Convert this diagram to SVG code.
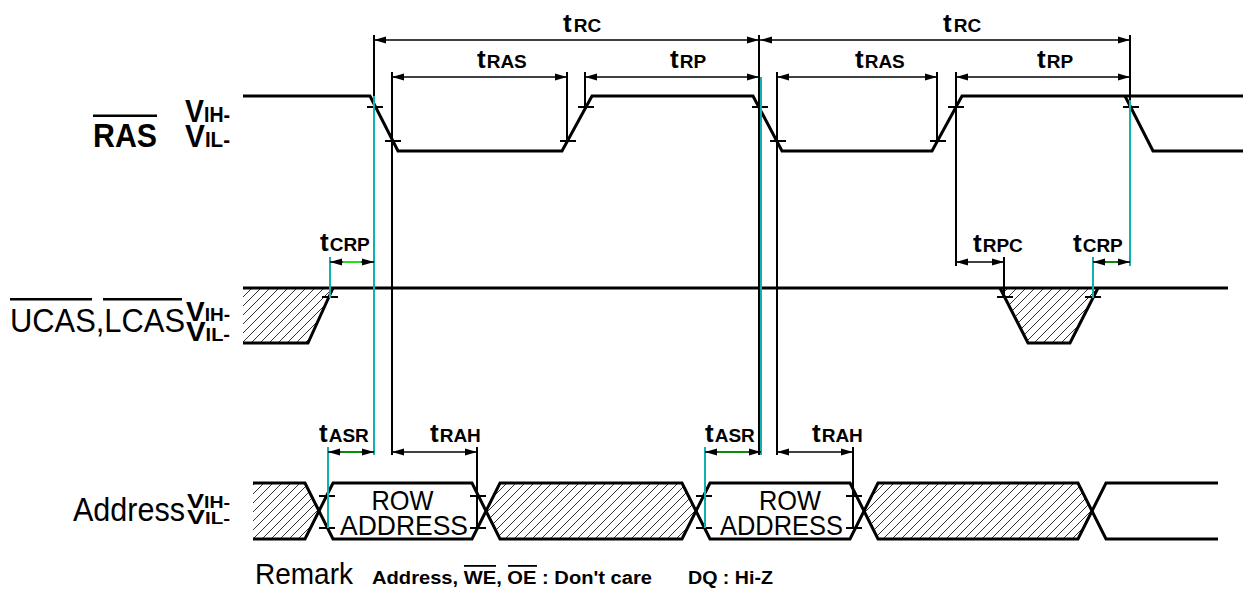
<svg xmlns="http://www.w3.org/2000/svg" width="1244" height="594" viewBox="0 0 1244 594">
<style>
text{font-family:"Liberation Sans",Arial,sans-serif;fill:#000}
.sig{fill:none;stroke:#000;stroke-width:3;stroke-linejoin:miter}
.tick{stroke:#000;stroke-width:2}
.ext{stroke:#000;stroke-width:2}
.cy{stroke:#12b0b0;stroke-width:2}
.dim{stroke:#000;stroke-width:1.5;marker-start:url(#ah);marker-end:url(#ah)}
.g1{stroke:#22dd22;stroke-width:2}
.g2{stroke:#0a8a0a;stroke-width:2}
.hatch{fill:url(#hp);stroke:none}
.tt{font-size:26px;font-weight:bold}
.ts{font-size:19px;font-weight:bold}
.vb{font-weight:bold}
.ov{fill:#000}
</style>
<defs>
<marker id="ah" viewBox="0 0 12 8" refX="12" refY="4" markerWidth="12" markerHeight="8" markerUnits="userSpaceOnUse" orient="auto-start-reverse">
<path d="M0,0.6 L12,4 L0,7.4 z" fill="#000"/>
</marker>
<pattern id="hp" patternUnits="userSpaceOnUse" width="9" height="9">
<path d="M0,9 L9,0 M-1,1 L1,-1 M8,10 L10,8" stroke="#333" stroke-width="1"/>
</pattern>
</defs>
<rect width="1244" height="594" fill="#fff"/>

<g id="labels">
<g id="ras-label">
<text x="93" y="147" font-size="34" font-weight="bold" textLength="64" lengthAdjust="spacingAndGlyphs">RAS</text>
<rect class="ov" x="93" y="114.5" width="64" height="2.5"/>
<text class="vb" x="185" y="122" textLength="45" lengthAdjust="spacingAndGlyphs"><tspan font-size="32">V</tspan><tspan font-size="22">IH-</tspan></text>
<text class="vb" x="185" y="147" textLength="45" lengthAdjust="spacingAndGlyphs"><tspan font-size="32">V</tspan><tspan font-size="22">IL-</tspan></text>
</g>
<g id="cas-label">
<text x="10" y="332" font-size="34" textLength="175" lengthAdjust="spacingAndGlyphs">UCAS,LCAS</text>
<rect class="ov" x="10" y="298" width="82" height="2.5"/>
<rect class="ov" x="103" y="298" width="79" height="2.5"/>
<text class="vb" x="186" y="321" textLength="44" lengthAdjust="spacingAndGlyphs"><tspan font-size="28">V</tspan><tspan font-size="19">IH-</tspan></text>
<text class="vb" x="186" y="341" textLength="44" lengthAdjust="spacingAndGlyphs"><tspan font-size="28">V</tspan><tspan font-size="19">IL-</tspan></text>
</g>
<g id="addr-label">
<text x="73" y="521" font-size="33" textLength="112" lengthAdjust="spacingAndGlyphs">Address</text>
<text class="vb" x="187" y="508" textLength="43" lengthAdjust="spacingAndGlyphs"><tspan font-size="21">V</tspan><tspan font-size="16">IH-</tspan></text>
<text class="vb" x="187" y="524" textLength="43" lengthAdjust="spacingAndGlyphs"><tspan font-size="21">V</tspan><tspan font-size="16">IL-</tspan></text>
</g>
</g>

<g id="ras">
<path class="sig" d="M243,96 H370 L398,151 H562 L592,96 H753 L782,151 H932 L962,96 H1243"/>
<path class="sig" d="M1125,96 L1153,151 H1243"/>
<path class="tick" d="M367,107 H383 M385,141 H401 M560,141 H576 M578,107 H594 M752,107 H768 M770,141 H786 M930,141 H946 M948,107 H964 M1123,107 H1139"/>
</g>

<g id="cas">
<polygon class="hatch" points="243,288 333,288 308,343 243,343"/>
<polygon class="hatch" points="1000,288 1098,288 1070,343 1028,343"/>
<path class="sig" d="M243,288 H1228"/>
<path class="sig" d="M333,288 L308,343 H243"/>
<path class="sig" d="M1000,288 L1028,343 H1070 L1098,288"/>
<path class="tick" d="M322,297 H338 M997,297 H1013 M1085,297 H1101"/>
</g>

<g id="address">
<polygon class="hatch" points="253,483 305,483 319,511 305,539 253,539"/>
<polygon class="hatch" points="486,511 500,483 682,483 696,511 682,539 500,539"/>
<polygon class="hatch" points="864,511 878,483 1078,483 1092,511 1078,539 878,539"/>
<path class="sig" d="M253,483 H305 L333,539 H472 L500,483 H682 L710,539 H850 L878,483 H1078 L1106,539 H1218"/>
<path class="sig" d="M253,539 H305 L333,483 H472 L500,539 H682 L710,483 H850 L878,539 H1078 L1106,483 H1218"/>
<path class="tick" d="M319,496 H335 M319,528 H335 M470,496 H486 M470,528 H486 M696,496 H712 M696,528 H712 M846,496 H862 M846,528 H862"/>
<text x="402.5" y="510" font-size="28" text-anchor="middle" textLength="62" lengthAdjust="spacingAndGlyphs">ROW</text>
<text x="340" y="535" font-size="28" textLength="128" lengthAdjust="spacingAndGlyphs">ADDRESS</text>
<text x="790" y="510" font-size="28" text-anchor="middle" textLength="62" lengthAdjust="spacingAndGlyphs">ROW</text>
<text x="720" y="535" font-size="28" textLength="123" lengthAdjust="spacingAndGlyphs">ADDRESS</text>
</g>

<g id="connectors">
<path class="ext" d="M374,35 V107 M759,35 V455 M1130,35 V107 M392,72 V455 M567,72 V141 M585,72 V107 M777,72 V455 M937,72 V141 M956,72 V266 M1004,257 V298 M477,447 V528 M853,447 V528"/>
<path class="cy" d="M374,96 V455 M761,77 V455 M1130,100 V266 M330,257 V298 M1093,257 V298 M328,447 V528 M705,447 V528"/>
<line class="dim" x1="374" y1="40" x2="759" y2="40"/>
<line class="dim" x1="760" y1="40" x2="1130" y2="40"/>
<line class="dim" x1="392" y1="77" x2="567" y2="77"/>
<line class="dim" x1="585" y1="77" x2="759" y2="77"/>
<line class="dim" x1="777" y1="77" x2="937" y2="77"/>
<line class="dim" x1="956" y1="77" x2="1130" y2="77"/>
<line class="dim" x1="330" y1="262" x2="374" y2="262"/>
<line class="g1" x1="343" y1="262" x2="361" y2="262"/>
<line class="dim" x1="956" y1="262" x2="1004" y2="262"/>
<line class="dim" x1="1093" y1="262" x2="1130" y2="262"/>
<line class="g2" x1="1106" y1="262" x2="1117" y2="262"/>
<line class="dim" x1="328" y1="452" x2="374" y2="452"/>
<line class="g2" x1="341" y1="452" x2="361" y2="452"/>
<line class="dim" x1="392" y1="452" x2="477" y2="452"/>
<line class="dim" x1="705" y1="452" x2="761" y2="452"/>
<line class="g2" x1="718" y1="452" x2="748" y2="452"/>
<line class="dim" x1="777" y1="452" x2="853" y2="452"/>
</g>

<g id="timing-labels">
<text x="563" y="32"><tspan class="tt">t</tspan><tspan class="ts" dx="2">RC</tspan></text>
<text x="943" y="32"><tspan class="tt">t</tspan><tspan class="ts" dx="2">RC</tspan></text>
<text x="477" y="68"><tspan class="tt">t</tspan><tspan class="ts" dx="1">RAS</tspan></text>
<text x="855" y="68"><tspan class="tt">t</tspan><tspan class="ts" dx="1">RAS</tspan></text>
<text x="670" y="68"><tspan class="tt">t</tspan><tspan class="ts" dx="1">RP</tspan></text>
<text x="1037" y="68"><tspan class="tt">t</tspan><tspan class="ts" dx="1">RP</tspan></text>
<text x="320" y="251"><tspan class="tt">t</tspan><tspan class="ts" dx="1">CRP</tspan></text>
<text x="973" y="252"><tspan class="tt">t</tspan><tspan class="ts" dx="1">RPC</tspan></text>
<text x="1073" y="252"><tspan class="tt">t</tspan><tspan class="ts" dx="1">CRP</tspan></text>
<text x="319" y="442"><tspan class="tt">t</tspan><tspan class="ts" dx="1">ASR</tspan></text>
<text x="430" y="442"><tspan class="tt">t</tspan><tspan class="ts" dx="1">RAH</tspan></text>
<text x="705" y="442"><tspan class="tt">t</tspan><tspan class="ts" dx="1">ASR</tspan></text>
<text x="812" y="442"><tspan class="tt">t</tspan><tspan class="ts" dx="1">RAH</tspan></text>
</g>

<g id="remark">
<text x="255" y="584" font-size="30" textLength="98" lengthAdjust="spacingAndGlyphs">Remark</text>
<text x="372" y="584" font-size="18" font-weight="bold" textLength="280" lengthAdjust="spacingAndGlyphs">Address, WE, OE : Don't care</text>
<rect class="ov" x="464" y="565" width="32" height="1.8"/>
<rect class="ov" x="508" y="565" width="29" height="1.8"/>
<text x="688" y="584" font-size="18" font-weight="bold" textLength="85" lengthAdjust="spacingAndGlyphs">DQ : Hi-Z</text>
</g>
</svg>
